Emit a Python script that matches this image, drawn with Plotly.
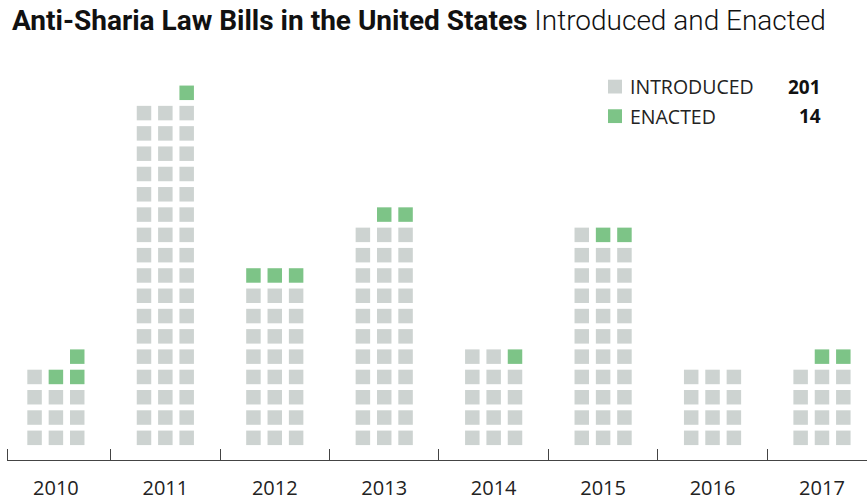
import plotly.graph_objects as go

# ---- data ----
years = ["2010", "2011", "2012", "2013", "2014", "2015", "2016", "2017"]
introduced = [13, 52, 27, 35, 15, 33, 12, 14]   # all bills introduced (incl. enacted)
enacted = [3, 1, 3, 2, 1, 2, 0, 2]
series_names = ["INTRODUCED", "ENACTED"]

GRAY = "#cdd3d1"
GREEN = "#7dc487"
TEXT = "#222222"
PER_ROW = 3
COL_OFFSET = 0.195

# ---- build unit (waffle) positions ----
gx, gy, ex, ey = [], [], [], []
for i, (n, e) in enumerate(zip(introduced, enacted)):
    full, rem = divmod(n, PER_ROW)
    for k in range(n):
        if k < full * PER_ROW:
            row, col = divmod(k, PER_ROW)
        else:
            row = full
            col = PER_ROW - rem + (k - full * PER_ROW)
        x = i + (col - 1) * COL_OFFSET
        if k >= n - e:
            ex.append(x); ey.append(row)
        else:
            gx.append(x); gy.append(row)

fig = go.Figure()
marker_common = dict(symbol="square", size=14.5, line=dict(width=0))
fig.add_trace(go.Scatter(x=gx, y=gy, mode="markers", name=series_names[0],
                         marker=dict(color=GRAY, **marker_common),
                         hoverinfo="skip", showlegend=False))
fig.add_trace(go.Scatter(x=ex, y=ey, mode="markers", name=series_names[1],
                         marker=dict(color=GREEN, **marker_common),
                         hoverinfo="skip", showlegend=False))

W, H = 867, 501
ML, MR, MT, MB = 7, 0, 60, 35
x0 = (7 - 55.9) / 109.44
x1 = (867 - 55.9) / 109.44
y0 = (443.5 - 466) / 20.6
y1 = (443.5 - 60) / 20.6

def px_x(px):
    return (px - ML) / (W - ML - MR)

def px_y(py):
    return (H - MB - py) / (H - MT - MB)

fig.update_layout(
    width=W, height=H,
    margin=dict(l=ML, r=MR, t=MT, b=MB),
    paper_bgcolor="white", plot_bgcolor="white",
    showlegend=False,
    title=dict(
        text="<b>Anti-Sharia Law Bills in the United States</b>"
             "<span style='font-weight:300'> Introduced and Enacted</span>",
        x=12 / W, xanchor="left", xref="container",
        y=1 - 20 / H, yanchor="middle", yref="container",
        font=dict(family="Roboto, Open Sans, sans-serif", size=28, color="#111111"),
    ),
    xaxis=dict(
        range=[x0, x1], tickmode="array", tickvals=list(range(len(years))), ticktext=years,
        ticks="", showgrid=False, zeroline=False,
        showline=True, linecolor="#444444", linewidth=1.3,
        tickfont=dict(family="Open Sans, sans-serif", size=20, color=TEXT),
        ticklabelstandoff=10,
        minor=dict(tickmode="array",
                   tickvals=[x0 + 0.003] + [i + 0.5 for i in range(len(years) - 1)],
                   ticks="inside", ticklen=11, tickwidth=1.3, tickcolor="#444444",
                   showgrid=False),
    ),
    yaxis=dict(range=[y0, y1], visible=False),
)

# ---- legend (keys + labels + totals) ----
legend_rows = [(series_names[0], GRAY, sum(introduced), 87),
               (series_names[1], GREEN, sum(enacted), 117)]
for name, color, total, cy in legend_rows:
    fig.add_shape(type="rect", xref="paper", yref="paper",
                  x0=px_x(608), x1=px_x(622), y0=px_y(cy + 7), y1=px_y(cy - 7),
                  fillcolor=color, line=dict(width=0))
    fig.add_annotation(xref="paper", yref="paper", x=px_x(628), y=px_y(cy),
                       xanchor="left", yanchor="middle", showarrow=False, text=name,
                       font=dict(family="Open Sans, sans-serif", size=19.5, color=TEXT))
    fig.add_annotation(xref="paper", yref="paper", x=px_x(823), y=px_y(cy),
                       xanchor="right", yanchor="middle", showarrow=False,
                       text=f"<b>{total}</b>",
                       font=dict(family="Open Sans, sans-serif", size=19, color="#111111"))

fig.write_html("out.html")
